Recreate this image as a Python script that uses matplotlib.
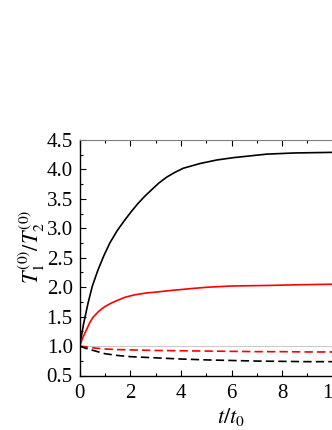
import matplotlib
matplotlib.use("Agg")
import matplotlib.pyplot as plt
from matplotlib.ticker import MultipleLocator

plt.rcParams['font.family'] = ['Liberation Serif', 'DejaVu Serif']
plt.rcParams['mathtext.fontset'] = 'stix'

# data
t_black = [0, 0.15, 0.33, 0.5, 0.72, 0.95, 1.19, 1.48, 1.78, 2.05, 2.30, 2.56, 2.83, 3.13, 3.44, 3.76, 4.09, 4.42, 4.75,
           5.41, 6.07, 6.73, 7.39, 8.5, 10.0]
y_black = [1.0, 1.37, 1.73, 2.02, 2.29, 2.53, 2.75, 2.96, 3.14, 3.29, 3.42, 3.54, 3.65, 3.77, 3.87, 3.95, 4.02, 4.06, 4.10,
           4.16, 4.20, 4.23, 4.26, 4.28, 4.29]

t_red = [0, 0.1, 0.25, 0.4, 0.53, 0.75, 0.99, 1.25, 1.51, 1.8, 2.17, 2.6, 3.09, 3.5, 4.0, 4.5, 5.07, 6.0, 7.5, 8.5, 10.0]
y_red = [1.0, 1.12, 1.26, 1.40, 1.49, 1.59, 1.67, 1.73, 1.78, 1.83, 1.87, 1.90, 1.92, 1.94, 1.96, 1.98, 2.0, 2.02, 2.03, 2.04, 2.05]

t_dash = [0, 0.25, 0.5, 1.0, 1.5, 2.0, 3.0, 4.0, 5.0, 6.0, 7.0, 8.0, 9.0, 10.0]
y_red_dash = [1.0, 0.985, 0.97, 0.95, 0.94, 0.935, 0.925, 0.92, 0.915, 0.91, 0.905, 0.905, 0.90, 0.90]
y_black_dash = [1.0, 0.96, 0.93, 0.87, 0.84, 0.82, 0.80, 0.78, 0.765, 0.755, 0.745, 0.74, 0.735, 0.735]

xticks = [0, 2, 4, 6, 8, 10]
yticks = [0.5, 1.0, 1.5, 2.0, 2.5, 3.0, 3.5, 4.0, 4.5]

fig = plt.figure(figsize=(3.32, 4.30), dpi=100)
ax = fig.add_axes([79.7/332, 54.5/430, (332.8-79.7)/332, 235.5/430])

ax.axhline(1.0, color='#c8c8c8', lw=0.7, zorder=1)
ax.plot(t_black, y_black, color='black', lw=1.2)
ax.plot(t_red, y_red, color='red', lw=1.2)
ax.plot(t_dash, y_red_dash, color='red', lw=1.2, ls=(0, (5, 2.5)))
ax.plot(t_dash, y_black_dash, color='black', lw=1.2, ls=(0, (5, 2.5)))

ax.set_xlim(0, 10)
ax.set_ylim(0.5, 4.5)
ax.set_xticks(xticks)
ax.set_yticks(yticks)
ax.set_yticklabels([f"{v:.1f}" for v in yticks])
ax.xaxis.set_minor_locator(MultipleLocator(1))
ax.yaxis.set_minor_locator(MultipleLocator(0.25))
ax.tick_params(which='both', direction='in', top=True, right=False, labelsize=15)
ax.tick_params(which='major', length=4, width=0.8)
ax.tick_params(which='minor', length=2, width=0.8)
ax.tick_params(axis='x', pad=6)
ax.tick_params(axis='y', pad=5)
ax.spines['top'].set_color('gray')
ax.spines['right'].set_visible(False)
for s in ['left', 'bottom']:
    ax.spines[s].set_linewidth(1.0)

ax.set_xlabel(r'$t/t_0$', fontsize=16)
ax.set_ylabel(r'$T_1^{(0)}/T_2^{(0)}$', fontsize=16)
ax.xaxis.set_label_coords(0.598, -0.13)
ax.yaxis.set_label_coords(-0.13, 0.546)

fig.savefig('out.png', dpi=100)
